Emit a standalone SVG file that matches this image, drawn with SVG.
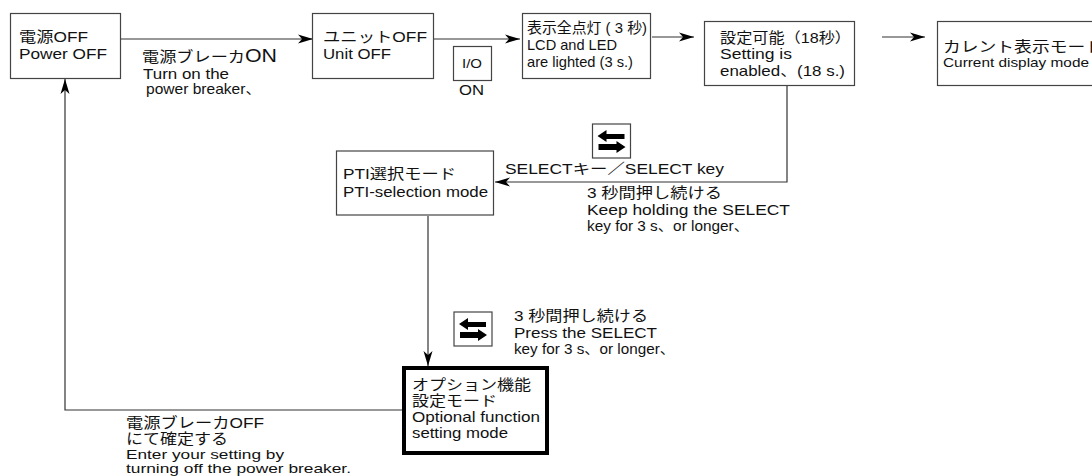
<svg xmlns="http://www.w3.org/2000/svg" width="1092" height="476" viewBox="0 0 1092 476">
<style>
text{font-family:"Liberation Sans","Noto Sans CJK JP",sans-serif;font-size:14.5px;fill:#111}
.b{fill:#fff;stroke:#444;stroke-width:1.2}
.c{fill:none;stroke:#333;stroke-width:1.2}
.k{fill:#000}
</style>
<defs>
<marker id="a" markerUnits="userSpaceOnUse" markerWidth="16" markerHeight="12" refX="15" refY="6" orient="auto"><path d="M0 1.5L15 6L0 10.500L4 6Z" fill="#000"/></marker>
<g id="sw"><rect class="b" width="38" height="34"/><path class="k" d="M5 12L14 6V10H32V15H14V18ZM33 23L24 29V26H6V20H24V17Z"/></g>
</defs>
<rect width="1092" height="476" fill="#fff"/>
<g id="connectors">
<path class="c" marker-end="url(#a)" d="M121 39H313"/>
<path class="c" marker-end="url(#a)" d="M434 39H520"/>
<path class="c" marker-end="url(#a)" d="M652 37H694"/>
<path class="c" marker-end="url(#a)" d="M882 37H925"/>
<path class="c" marker-end="url(#a)" d="M787 85V182H495"/>
<path class="c" marker-end="url(#a)" d="M428 216V366"/>
<path class="c" marker-end="url(#a)" d="M402 410H65V79"/>
</g>
<g id="n-power"><rect class="b" x="10.500" y="13.500" width="110" height="65"/><text x="19" y="42" textLength="69" lengthAdjust="spacingAndGlyphs">電源OFF</text><text x="19" y="59" textLength="88" lengthAdjust="spacingAndGlyphs">Power OFF</text></g>
<g id="n-breaker"><text x="142" y="62" textLength="135" lengthAdjust="spacingAndGlyphs">電源ブレーカ<tspan style="font-size:18px">ON</tspan></text><text x="143" y="79" textLength="86" lengthAdjust="spacingAndGlyphs">Turn on the</text><text x="146" y="94" textLength="115" lengthAdjust="spacingAndGlyphs">power breaker、</text></g>
<g id="n-unit"><rect class="b" x="312.500" y="13.500" width="121" height="65"/><text x="323" y="42" textLength="104" lengthAdjust="spacingAndGlyphs">ユニットOFF</text><text x="323" y="59" textLength="68" lengthAdjust="spacingAndGlyphs">Unit OFF</text></g>
<g id="n-io"><rect class="b" x="453.500" y="46.500" width="38" height="34"/><text x="462" y="68" textLength="20" lengthAdjust="spacingAndGlyphs" style="font-size:13px">I/O</text><text x="459" y="95" textLength="25" lengthAdjust="spacingAndGlyphs">ON</text></g>
<g id="n-lcd"><rect class="b" x="522.500" y="13.500" width="128" height="65"/><text x="527" y="33" textLength="120" lengthAdjust="spacingAndGlyphs">表示全点灯 ( 3 秒)</text><text x="527" y="50" textLength="90" lengthAdjust="spacingAndGlyphs">LCD and LED</text><text x="527" y="67" textLength="106" lengthAdjust="spacingAndGlyphs">are lighted (3 s.)</text></g>
<g id="n-setting"><rect class="b" x="704.500" y="21.500" width="150" height="64"/><text x="720" y="43" textLength="131" lengthAdjust="spacingAndGlyphs">設定可能（18秒）</text><text x="720" y="59" textLength="72" lengthAdjust="spacingAndGlyphs">Setting is</text><text x="720" y="76" textLength="125" lengthAdjust="spacingAndGlyphs">enabled、(18 s.)</text></g>
<g id="n-current"><rect class="b" x="937.500" y="21.500" width="160" height="64"/><text x="943" y="52" textLength="160" lengthAdjust="spacingAndGlyphs">カレント表示モード</text><text x="943" y="67" textLength="146" lengthAdjust="spacingAndGlyphs" style="font-size:13.500px">Current display mode</text></g>
<g id="n-key1"><use href="#sw" x="592.500" y="124"/><text x="505" y="174" textLength="219" lengthAdjust="spacingAndGlyphs">SELECTキー／SELECT key</text></g>
<g id="n-hold1"><text x="587" y="198" textLength="135" lengthAdjust="spacingAndGlyphs">3 秒間押し続ける</text><text x="587" y="215" textLength="203" lengthAdjust="spacingAndGlyphs">Keep holding the SELECT</text><text x="587" y="231" textLength="162" lengthAdjust="spacingAndGlyphs">key for 3 s、or longer、</text></g>
<g id="n-pti"><rect class="b" x="336.500" y="151" width="157" height="64"/><text x="343" y="179" textLength="113" lengthAdjust="spacingAndGlyphs">PTI選択モード</text><text x="343" y="197" textLength="145" lengthAdjust="spacingAndGlyphs">PTI-selection mode</text></g>
<g id="n-key2"><use href="#sw" x="454" y="312"/></g>
<g id="n-hold2"><text x="514" y="321" textLength="134" lengthAdjust="spacingAndGlyphs">3 秒間押し続ける</text><text x="514" y="338" textLength="143" lengthAdjust="spacingAndGlyphs">Press the SELECT</text><text x="514" y="354" textLength="161" lengthAdjust="spacingAndGlyphs">key for 3 s、or longer、</text></g>
<g id="n-option"><rect x="404" y="368" width="143" height="85" fill="#fff" stroke="#000" stroke-width="4"/><text x="412" y="390" textLength="119" lengthAdjust="spacingAndGlyphs">オプション機能</text><text x="412" y="406" textLength="85" lengthAdjust="spacingAndGlyphs">設定モード</text><text x="412" y="422" textLength="128" lengthAdjust="spacingAndGlyphs">Optional function</text><text x="412" y="438" textLength="96" lengthAdjust="spacingAndGlyphs">setting mode</text></g>
<g id="n-confirm"><text x="126" y="428" textLength="138" lengthAdjust="spacingAndGlyphs">電源ブレーカOFF</text><text x="126" y="444" textLength="102" lengthAdjust="spacingAndGlyphs">にて確定する</text><text x="126" y="459" textLength="158" lengthAdjust="spacingAndGlyphs" style="font-size:13px">Enter your setting by</text><text x="126" y="473" textLength="225" lengthAdjust="spacingAndGlyphs" style="font-size:13px">turning off the power breaker.</text></g>
</svg>
